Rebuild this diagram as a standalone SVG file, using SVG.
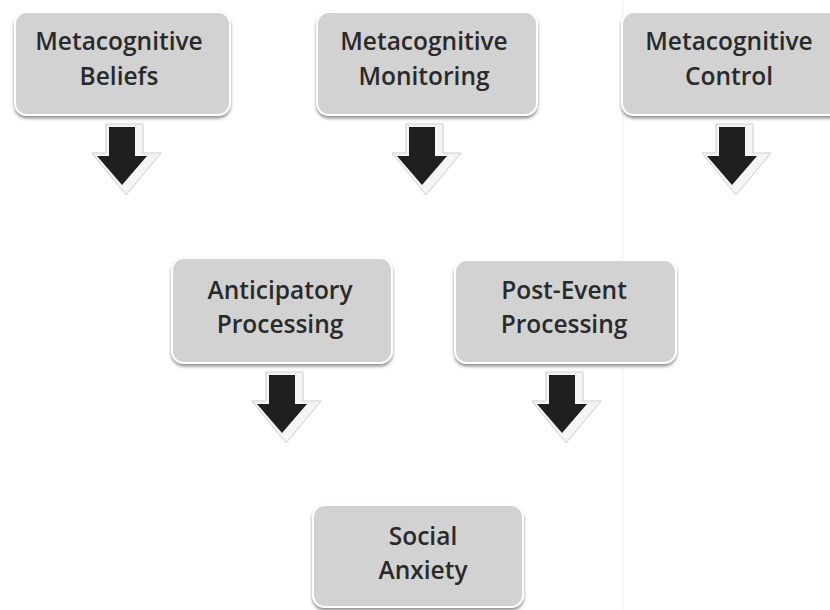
<svg xmlns="http://www.w3.org/2000/svg" xmlns:xlink="http://www.w3.org/1999/xlink" width="830" height="610" viewBox="0 0 830 610">
<defs>
<style>
.box{fill:#d2d2d2;stroke:#ffffff;stroke-width:2;filter:url(#sh)}
.lbl{font-family:"Open Sans","Noto Sans","DejaVu Sans",sans-serif;font-weight:600;font-size:24.5px;fill:#2a2a2a;text-anchor:middle}
.aout{fill:#f5f5f5;stroke:#cdcdcd;stroke-width:1}
.ain{fill:#1f1f1f}
</style>
<filter id="sh" x="-10%" y="-10%" width="120%" height="130%">
<feDropShadow dx="0" dy="2.5" stdDeviation="1.5" flood-color="#666" flood-opacity="0.7"/>
</filter>
<g id="arrow">
<polygon class="aout" points="-16,-3 21,-3 21,26 39,26 4,68 -30,26 -16,26"/>
<polygon class="ain" points="-13,0 13,0 13,29 25,29 0,58 -25,29 -13,29"/>
</g>
</defs>
<rect width="830" height="610" fill="#ffffff"/>
<line x1="623" y1="0" x2="623" y2="610" stroke="#efefef" stroke-width="1"/>
<g id="connectors">
<use xlink:href="#arrow" x="122" y="127"/>
<use xlink:href="#arrow" x="422" y="127"/>
<use xlink:href="#arrow" x="732" y="127"/>
<use xlink:href="#arrow" x="282" y="375"/>
<use xlink:href="#arrow" x="562" y="375"/>
</g>
<g id="beliefs">
<rect class="box" x="15" y="12" width="215" height="103" rx="12"/>
<text class="lbl" x="119" y="50">Metacognitive</text>
<text class="lbl" x="119" y="85">Beliefs</text>
</g>
<g id="monitoring">
<rect class="box" x="317" y="12" width="220" height="103" rx="12"/>
<text class="lbl" x="424" y="50">Metacognitive</text>
<text class="lbl" x="424" y="85">Monitoring</text>
</g>
<g id="control">
<rect class="box" x="622" y="12" width="220" height="103" rx="12"/>
<text class="lbl" x="729" y="50">Metacognitive</text>
<text class="lbl" x="729" y="85">Control</text>
</g>
<g id="anticipatory">
<rect class="box" x="172" y="258" width="220" height="105" rx="12"/>
<text class="lbl" x="280" y="299">Anticipatory</text>
<text class="lbl" x="280" y="333">Processing</text>
</g>
<g id="postevent">
<rect class="box" x="455" y="260" width="221" height="103" rx="12"/>
<text class="lbl" x="564" y="299">Post-Event</text>
<text class="lbl" x="564" y="333">Processing</text>
</g>
<g id="social">
<rect class="box" x="313" y="505" width="210" height="102" rx="12"/>
<text class="lbl" x="423" y="545">Social</text>
<text class="lbl" x="423" y="579">Anxiety</text>
</g>
</svg>
